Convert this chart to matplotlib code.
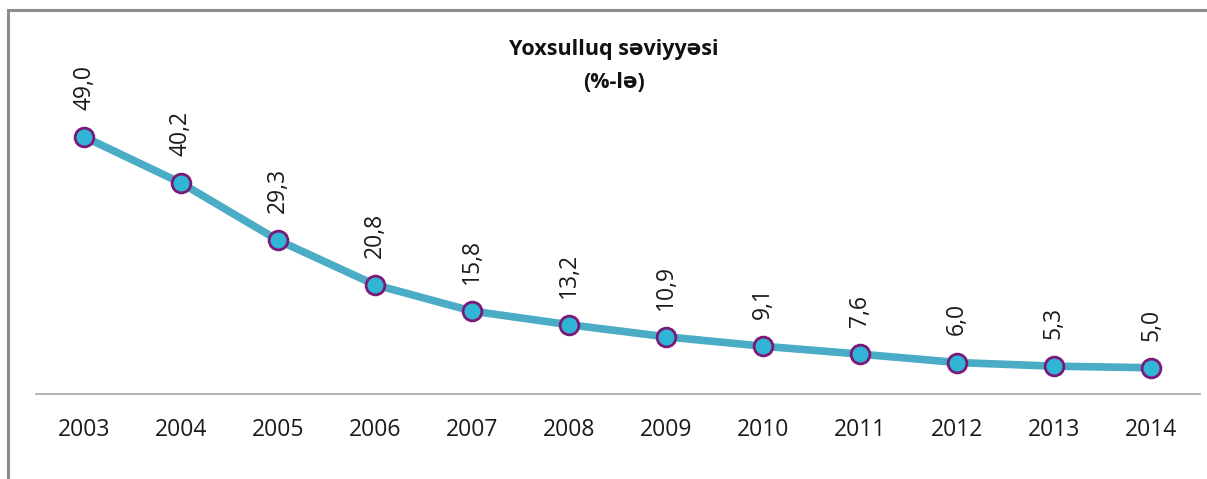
import matplotlib
matplotlib.use("Agg")
import matplotlib.pyplot as plt
from matplotlib.lines import Line2D

years = ["2003", "2004", "2005", "2006", "2007", "2008",
         "2009", "2010", "2011", "2012", "2013", "2014"]
poverty = [49.0, 40.2, 29.3, 20.8, 15.8, 13.2, 10.9, 9.1, 7.6, 6.0, 5.3, 5.0]

W, H = 1207, 479
fig = plt.figure(figsize=(W / 100, H / 100), dpi=100)
plt.rcParams["font.family"] = ["Open Sans", "DejaVu Sans"]

# plot area in pixels
left, right, top, bottom = 35.5, 1199.5, 79, 394
ax = fig.add_axes([left / W, 1 - bottom / H, (right - left) / W, (bottom - top) / H])

x = list(range(len(years)))
ax.plot(x, poverty, color="#4bacc6", lw=5.5, zorder=2, solid_capstyle="round")
ax.plot(x, poverty, ls="none", marker="o", ms=13.5, mfc="#31b5d6", mec="#7a1a78",
        mew=2, zorder=3)

for xi, v in zip(x, poverty):
    ax.annotate(f"{v:.1f}".replace(".", ","), (xi, v), xytext=(0, 19.5),
                textcoords="offset points", rotation=90, ha="center", va="bottom",
                fontsize=16.5, color="#1a1a1a")

ax.set_xlim(-0.5, len(years) - 0.5)
ax.set_ylim(0, 60)
ax.set_xticks(x)
ax.set_xticklabels(years, fontsize=16.5, color="#1a1a1a")
ax.tick_params(axis="x", length=0, pad=17)
ax.set_yticks([])
for s in ["top", "right", "left"]:
    ax.spines[s].set_visible(False)
ax.spines["bottom"].set_color("#a6a6a6")
ax.spines["bottom"].set_linewidth(1.2)

fig.text(614 / W, 1 - 49 / H, "Yoxsulluq səviyyəsi", ha="center", va="center",
         fontsize=15.5, fontweight="bold", color="#111111")
fig.text(614 / W, 1 - 83 / H, "(%-lə)", ha="center", va="center",
         fontsize=15.5, fontweight="bold", color="#111111")

# outer chart frame (cropped at right and bottom)
fc = "#8c8c8c"
fig.add_artist(Line2D([8 / W, 8 / W], [0, 1 - 10 / H], color=fc, lw=2.2,
                      transform=fig.transFigure))
fig.add_artist(Line2D([8 / W, 1], [1 - 10 / H, 1 - 10 / H], color=fc, lw=2.2,
                      transform=fig.transFigure))

fig.savefig("out.png", dpi=100, facecolor="white")
